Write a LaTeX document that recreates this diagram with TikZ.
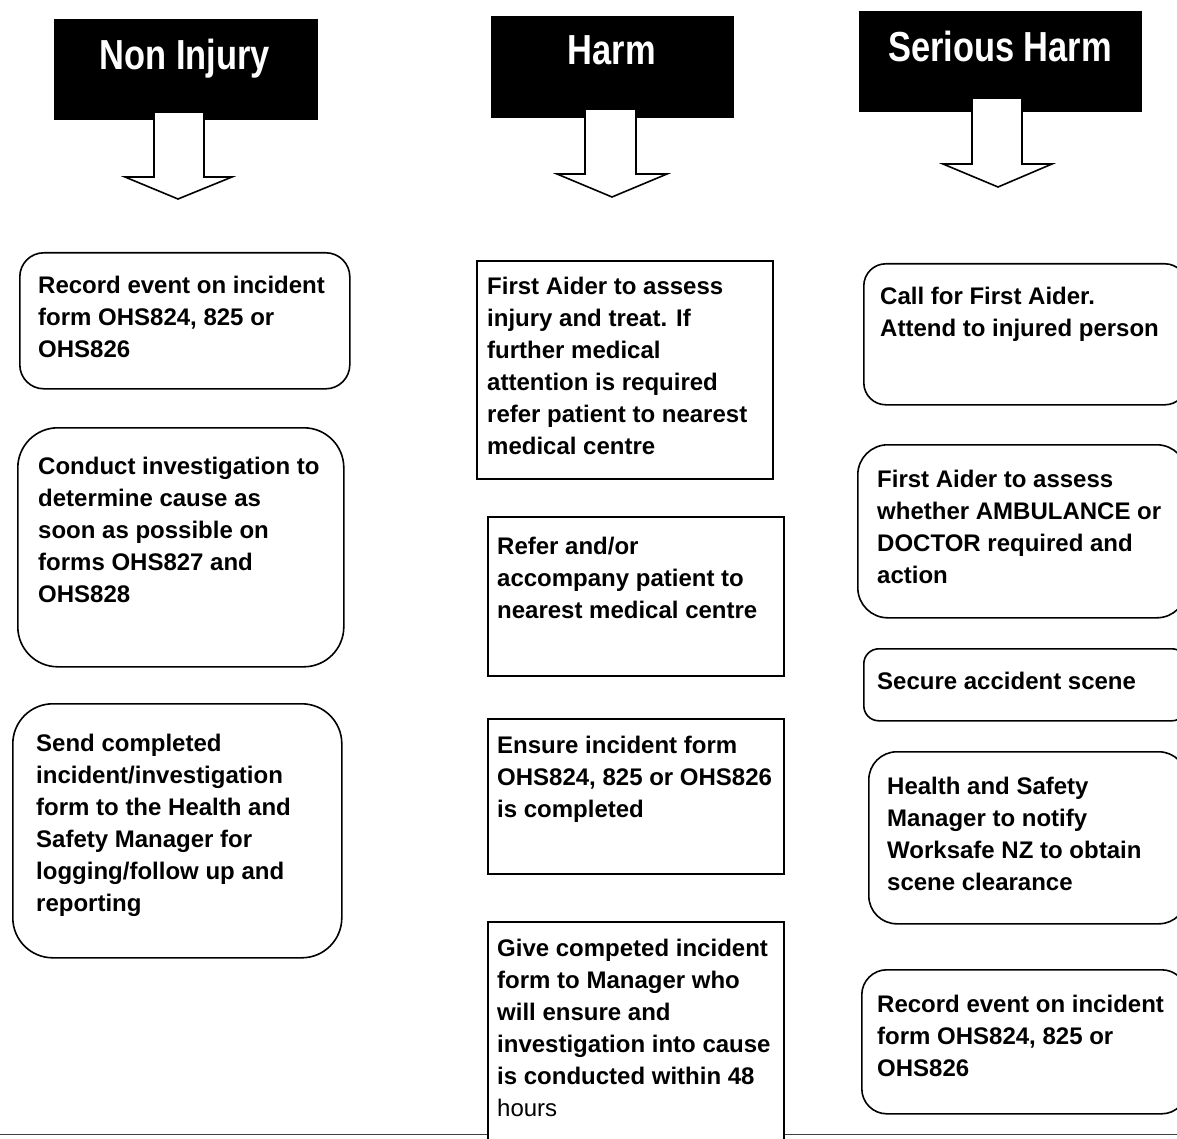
\documentclass[tikz,border=0pt]{standalone}
\usepackage{fontspec}
\setmainfont{Liberation Sans}
\newfontfamily\hdfont[FakeStretch=0.82]{Liberation Sans}
\begin{document}
\begin{tikzpicture}[x=1pt,y=-1pt,
  hdr/.style={fill=black,draw=black,inner sep=0pt,anchor=north west},
  hdtxt/.style={text=white,inner sep=0pt,anchor=base,font=\hdfont\bfseries\fontsize{42}{50}\selectfont},
  rbox/.style={draw=black,line width=1.6pt,inner sep=0pt,anchor=north west},
  sbox/.style={draw=black,line width=1.6pt,inner sep=0pt,anchor=north west},
  txt/.style={inner sep=0pt,anchor=base west,align=left,font=\bfseries\fontsize{24}{32}\selectfont},
  nlines/.style={yshift={-(#1-1)*32pt}},
  downarrow/.style={draw=black,fill=white,line width=1.6pt,miter limit=10}]
\useasboundingbox (0,0) rectangle (1177,1139);
\clip (0,0) rectangle (1177,1139);
\fill[white] (0,0) rectangle (1177,1139);

% headers
\node[hdr,minimum width=263pt,minimum height=100pt] (hn) at (54,19) {};
\node[hdr,minimum width=242pt,minimum height=101pt] (hh) at (491,16) {};
\node[hdr,minimum width=282pt,minimum height=100pt] (hs) at (859,11) {};
\node[hdtxt] (hnt) at (185,70) {Non Injury};
\node[hdtxt] (hht) at (612,65) {Harm};
\node[hdtxt] (hst) at (1000,62) {Serious Harm};

% block arrows
\draw[downarrow] (154,112) -- (204,112) -- (204,177) -- (232,177) -- (178,199) -- (125,177) -- (154,177) -- cycle;
\draw[downarrow] (585,109) -- (636,109) -- (636,174) -- (667,174) -- (612,197) -- (557,174) -- (585,174) -- cycle;
\draw[downarrow] (972,98) -- (1022,98) -- (1022,164) -- (1052,164) -- (998,187) -- (943,164) -- (972,164) -- cycle;

% left column
\node[rbox,rounded corners=24pt,minimum width=330pt,minimum height=136pt] (l1) at (19,252) {};
\node[rbox,rounded corners=40pt,minimum width=326pt,minimum height=239pt] (l2) at (17,427) {};
\node[rbox,rounded corners=40pt,minimum width=329pt,minimum height=254pt] (l3) at (12,703) {};
\node[txt,nlines=3] (l1t) at (38,293) {Record event on incident\\form OHS824, 825 or\\OHS826};
\node[txt,nlines=5] (l2t) at (38,474) {Conduct investigation to\\determine cause as\\soon as possible on\\forms OHS827 and\\OHS828};
\node[txt,nlines=6] (l3t) at (36,751) {Send completed\\incident/investigation\\form to the Health and\\Safety Manager for\\logging/follow up and\\reporting};

% middle column
\node[sbox,minimum width=296pt,minimum height=218pt] (h1) at (476,260) {};
\node[sbox,minimum width=296pt,minimum height=159pt] (h2) at (487,516) {};
\node[sbox,minimum width=296pt,minimum height=155pt] (h3) at (487,718) {};
\node[sbox,minimum width=296pt,minimum height=240pt] (h4) at (487,921) {};
\node[txt,nlines=6] (h1t) at (487,294) {First Aider to assess\\injury and treat. If\\further medical\\attention is required\\refer patient to nearest\\medical centre};
\node[txt,nlines=3] (h2t) at (497,554) {Refer and/or\\accompany patient to\\nearest medical centre};
\node[txt,nlines=3] (h3t) at (497,753) {Ensure incident form\\OHS824, 825 or OHS826\\is completed};
\node[txt,nlines=6] (h4t) at (497,956) {Give competed incident\\form to Manager who\\will ensure and\\investigation into cause\\is conducted within 48\\{\mdseries hours}};

% right column
\node[rbox,rounded corners=22pt,minimum width=323pt,minimum height=141pt] (r1) at (863,263) {};
\node[rbox,rounded corners=30pt,minimum width=329pt,minimum height=173pt] (r2) at (857,444) {};
\node[rbox,rounded corners=15pt,minimum width=323pt,minimum height=72pt] (r3) at (863,648) {};
\node[rbox,rounded corners=28pt,minimum width=318pt,minimum height=172pt] (r4) at (868,751) {};
\node[rbox,rounded corners=25pt,minimum width=325pt,minimum height=144pt] (r5) at (861,969) {};
\node[txt,nlines=2] (r1t) at (880,304) {Call for First Aider.\\Attend to injured person};
\node[txt,nlines=4] (r2t) at (877,487) {First Aider to assess\\whether AMBULANCE or\\DOCTOR required and\\action};
\node[txt,nlines=1] (r3t) at (877,689) {Secure accident scene};
\node[txt,nlines=4] (r4t) at (887,794) {Health and Safety\\Manager to notify\\Worksafe NZ to obtain\\scene clearance};
\node[txt,nlines=3] (r5t) at (877,1012) {Record event on incident\\form OHS824, 825 or\\OHS826};

% bottom rule
\coordinate (bl) at (0,1134);
\coordinate (br) at (1177,1134);
\draw[line width=1pt,black!75] (bl) -- (bl -| h4.west);
\draw[line width=1pt,black!75] (h4.east |- br) -- (br);
\end{tikzpicture}
\end{document}
